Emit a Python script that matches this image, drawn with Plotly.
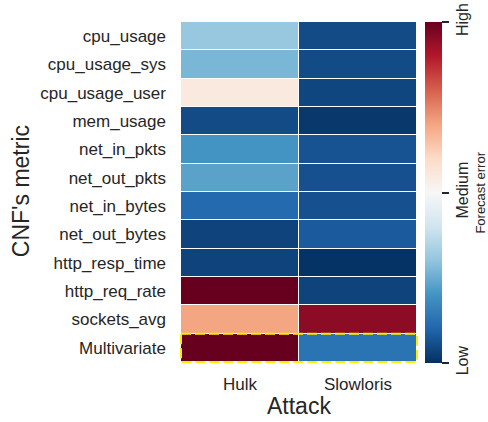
import plotly.graph_objects as go

# Forecast error per CNF metric (rows) and attack type (columns), normalised 0..1
metrics = [
    "cpu_usage", "cpu_usage_sys", "cpu_usage_user", "mem_usage",
    "net_in_pkts", "net_out_pkts", "net_in_bytes", "net_out_bytes",
    "http_resp_time", "http_req_rate", "sockets_avg", "Multivariate",
]
attacks = ["Hulk", "Slowloris"]

hulk_error = [0.31, 0.27, 0.55, 0.05, 0.20, 0.23, 0.11, 0.035,
              0.035, 1.00, 0.70, 1.00]
slowloris_error = [0.05, 0.05, 0.04, 0.015, 0.065, 0.06, 0.06, 0.08,
                   0.005, 0.035, 0.95, 0.13]

colorbar_ticks = [0.0, 0.5, 1.0]
colorbar_labels = ["Low", "Medium", "High"]

# ColorBrewer RdBu, reversed so low = blue, high = red
rdbu = ["#053061", "#2166ac", "#4393c3", "#92c5de", "#d1e5f0", "#f7f7f7",
        "#fddbc7", "#f4a582", "#d6604d", "#b2182b", "#67001f"]
colorscale = [[i / (len(rdbu) - 1), c] for i, c in enumerate(rdbu)]

z = [[h, s] for h, s in zip(hulk_error, slowloris_error)]

FONT = "Liberation Sans, Arial, sans-serif"
INK = "#262626"

fig = go.Figure(
    go.Heatmap(
        z=z,
        x=attacks,
        y=metrics,
        zmin=0,
        zmax=1,
        colorscale=colorscale,
        xgap=1,
        ygap=1,
        colorbar=dict(
            x=1.0294,
            xanchor="left",
            y=0.5,
            yanchor="middle",
            len=1.0,
            ypad=0,
            xpad=0,
            thickness=17,
            outlinewidth=0,
            tickvals=colorbar_ticks,
            ticktext=colorbar_labels,
            ticks="outside",
            ticklen=7,
            tickwidth=1.5,
            tickcolor=INK,
            tickangle=-90,
            tickfont=dict(size=16, color=INK, family=FONT),
        ),
    )
)

# Highlight the multivariate row with a dashed yellow frame
mv = metrics.index("Multivariate")
fig.add_shape(
    type="rect",
    xref="x", yref="y",
    x0=-0.5, x1=len(attacks) - 0.5,
    y0=mv - 0.5, y1=mv + 0.5,
    line=dict(color="#ffee00", width=2, dash="10px,4px"),
)

# Axis and colour-bar titles
title_font = dict(size=23, color=INK, family=FONT)
fig.add_annotation(
    text="CNF's metric", xref="paper", yref="paper",
    x=-0.668, y=0.504, xanchor="center", yanchor="middle",
    textangle=-90, showarrow=False, font=title_font,
)
fig.add_annotation(
    text="Attack", xref="paper", yref="paper",
    x=0.5, y=-0.125, xanchor="center", yanchor="middle",
    showarrow=False, font=title_font,
)
fig.add_annotation(
    text="Forecast error",
    xref="paper", yref="paper",
    x=1.261, y=0.5,
    xanchor="center", yanchor="middle",
    textangle=-90,
    showarrow=False,
    font=dict(size=13, color=INK, family=FONT),
)

fig.update_xaxes(
    automargin=False,
    showgrid=False, zeroline=False, showline=False,
    ticks="", ticklabelstandoff=9,
    tickfont=dict(size=17, color=INK, family=FONT),
)
fig.update_yaxes(
    automargin=False,
    autorange="reversed",
    showgrid=False, zeroline=False, showline=False,
    ticks="", ticklabelstandoff=13,
    tickfont=dict(size=17, color=INK, family=FONT),
)

fig.update_layout(
    width=488,
    height=422,
    margin=dict(l=180, r=70, t=22, b=59),
    paper_bgcolor="white",
    plot_bgcolor="white",
    font=dict(family=FONT, color=INK),
)

fig.write_html("out.html")
